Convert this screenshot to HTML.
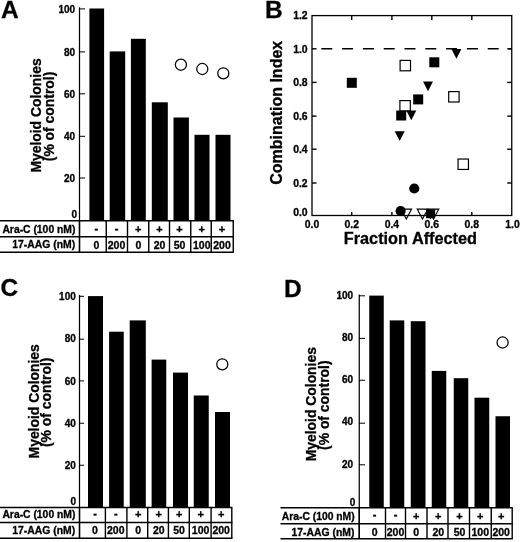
<!DOCTYPE html>
<html><head><meta charset="utf-8"><title>Figure</title>
<style>html,body{margin:0;padding:0;background:#fff;}svg{display:block;filter:grayscale(1);}text{font-family:"Liberation Sans", Arial, Helvetica, sans-serif;font-weight:bold;fill:#000;stroke:#000;stroke-width:0.3px;}</style>
</head><body>
<svg width="520" height="542" viewBox="0 0 520 542">
<rect x="0" y="0" width="520" height="542" fill="#fff"/>
<text x="1.0" y="18.3" font-size="24.5" text-anchor="start" >A</text>
<rect x="89.40" y="8.50" width="14.70" height="212.20" fill="#000"/>
<rect x="109.70" y="51.40" width="15.50" height="169.30" fill="#000"/>
<rect x="130.90" y="38.80" width="14.90" height="181.90" fill="#000"/>
<rect x="151.80" y="102.30" width="16.00" height="118.40" fill="#000"/>
<rect x="173.50" y="117.50" width="15.40" height="103.20" fill="#000"/>
<rect x="194.50" y="134.80" width="15.00" height="85.90" fill="#000"/>
<rect x="215.50" y="134.80" width="15.00" height="85.90" fill="#000"/>
<line x1="79.5" y1="7.3" x2="79.5" y2="252.3" stroke="#000" stroke-width="1.25" />
<line x1="79.5" y1="8.9" x2="85.1" y2="8.9" stroke="#000" stroke-width="1.0" />
<line x1="79.5" y1="51.9" x2="85.1" y2="51.9" stroke="#000" stroke-width="1.0" />
<line x1="79.5" y1="93.8" x2="85.1" y2="93.8" stroke="#000" stroke-width="1.0" />
<line x1="79.5" y1="136.3" x2="85.1" y2="136.3" stroke="#000" stroke-width="1.0" />
<line x1="79.5" y1="178.0" x2="85.1" y2="178.0" stroke="#000" stroke-width="1.0" />
<text x="75.2" y="12.6" font-size="10.0" text-anchor="end" >100</text>
<text x="75.2" y="55.5" font-size="10.0" text-anchor="end" >80</text>
<text x="75.2" y="97.5" font-size="10.0" text-anchor="end" >60</text>
<text x="75.2" y="140.0" font-size="10.0" text-anchor="end" >40</text>
<text x="75.2" y="181.79999999999998" font-size="10.0" text-anchor="end" >20</text>
<text x="77.1" y="218.35" font-size="10.0" text-anchor="end" >0</text>
<line x1="0" y1="220.7" x2="233.85" y2="220.7" stroke="#000" stroke-width="1.4" />
<line x1="0" y1="236.75" x2="233.85" y2="236.75" stroke="#000" stroke-width="1.4" />
<line x1="0" y1="252.3" x2="233.85" y2="252.3" stroke="#000" stroke-width="1.4" />
<line x1="79.5" y1="220.7" x2="79.5" y2="252.3" stroke="#000" stroke-width="1.4" />
<line x1="106.25" y1="220.7" x2="106.25" y2="252.3" stroke="#000" stroke-width="1.4" />
<line x1="127.5" y1="220.7" x2="127.5" y2="252.3" stroke="#000" stroke-width="1.4" />
<line x1="148.75" y1="220.7" x2="148.75" y2="252.3" stroke="#000" stroke-width="1.4" />
<line x1="169.5" y1="220.7" x2="169.5" y2="252.3" stroke="#000" stroke-width="1.4" />
<line x1="190.75" y1="220.7" x2="190.75" y2="252.3" stroke="#000" stroke-width="1.4" />
<line x1="211.25" y1="220.7" x2="211.25" y2="252.3" stroke="#000" stroke-width="1.4" />
<line x1="233.25" y1="220.7" x2="233.25" y2="252.3" stroke="#000" stroke-width="1.4" />
<text x="75.4" y="232.7" font-size="10.35" text-anchor="end" >Ara-C (100 nM)</text>
<text x="75.1" y="248.45" font-size="10.4" text-anchor="end" >17-AAG (nM)</text>
<text x="96.3" y="231.7" font-size="11" text-anchor="middle" >-</text>
<text x="96.3" y="248.65" font-size="10.5" text-anchor="middle" >0</text>
<text x="116.5" y="231.7" font-size="11" text-anchor="middle" >-</text>
<text x="116.5" y="248.65" font-size="10.5" text-anchor="middle" >200</text>
<text x="138.3" y="233.0" font-size="11" text-anchor="middle" >+</text>
<text x="138.3" y="248.65" font-size="10.5" text-anchor="middle" >0</text>
<text x="159.5" y="233.0" font-size="11" text-anchor="middle" >+</text>
<text x="159.5" y="248.65" font-size="10.5" text-anchor="middle" >20</text>
<text x="179.5" y="233.0" font-size="11" text-anchor="middle" >+</text>
<text x="179.5" y="248.65" font-size="10.5" text-anchor="middle" >50</text>
<text x="201.8" y="233.0" font-size="11" text-anchor="middle" >+</text>
<text x="201.8" y="248.65" font-size="10.5" text-anchor="middle" >100</text>
<text x="222" y="233.0" font-size="11" text-anchor="middle" >+</text>
<text x="222" y="248.65" font-size="10.5" text-anchor="middle" >200</text>
<text transform="translate(40.8,115.5) rotate(-90)" font-size="13.9" text-anchor="middle">Myeloid Colonies</text>
<text transform="translate(54.0,116.5) rotate(-90)" font-size="13.9" text-anchor="middle">(% of control)</text>
<circle cx="180.9" cy="64.7" r="5.55" fill="#fff" stroke="#000" stroke-width="1.25"/>
<circle cx="202.3" cy="69" r="5.55" fill="#fff" stroke="#000" stroke-width="1.25"/>
<circle cx="223.3" cy="73.3" r="5.55" fill="#fff" stroke="#000" stroke-width="1.25"/>
<text x="0.4" y="296.1" font-size="24.5" text-anchor="start" >C</text>
<rect x="88.00" y="296.10" width="15.00" height="211.40" fill="#000"/>
<rect x="109.10" y="331.70" width="14.65" height="175.80" fill="#000"/>
<rect x="129.70" y="320.40" width="16.10" height="187.10" fill="#000"/>
<rect x="151.60" y="359.60" width="14.65" height="147.90" fill="#000"/>
<rect x="173.00" y="372.60" width="15.00" height="134.90" fill="#000"/>
<rect x="193.75" y="395.50" width="15.00" height="112.00" fill="#000"/>
<rect x="215.00" y="412.00" width="15.00" height="95.50" fill="#000"/>
<line x1="79.5" y1="294.90000000000003" x2="79.5" y2="538.25" stroke="#000" stroke-width="1.25" />
<line x1="79.5" y1="296.3" x2="84.1" y2="296.3" stroke="#000" stroke-width="1.0" />
<line x1="79.5" y1="339.2" x2="84.1" y2="339.2" stroke="#000" stroke-width="1.0" />
<line x1="79.5" y1="380.9" x2="84.1" y2="380.9" stroke="#000" stroke-width="1.0" />
<line x1="79.5" y1="423.25" x2="84.1" y2="423.25" stroke="#000" stroke-width="1.0" />
<line x1="79.5" y1="465.25" x2="84.1" y2="465.25" stroke="#000" stroke-width="1.0" />
<text x="75.8" y="300.0" font-size="10.0" text-anchor="end" >100</text>
<text x="75.8" y="341.6" font-size="10.0" text-anchor="end" >80</text>
<text x="75.8" y="384.5" font-size="10.0" text-anchor="end" >60</text>
<text x="75.8" y="426.90000000000003" font-size="10.0" text-anchor="end" >40</text>
<text x="75.8" y="468.90000000000003" font-size="10.0" text-anchor="end" >20</text>
<text x="76.0" y="504.90000000000003" font-size="10.0" text-anchor="end" >0</text>
<line x1="0" y1="507.5" x2="232.4" y2="507.5" stroke="#000" stroke-width="1.4" />
<line x1="0" y1="522.5" x2="232.4" y2="522.5" stroke="#000" stroke-width="1.4" />
<line x1="0" y1="538.25" x2="232.4" y2="538.25" stroke="#000" stroke-width="1.4" />
<line x1="79.5" y1="507.5" x2="79.5" y2="538.25" stroke="#000" stroke-width="1.4" />
<line x1="105.4" y1="507.5" x2="105.4" y2="538.25" stroke="#000" stroke-width="1.4" />
<line x1="126.9" y1="507.5" x2="126.9" y2="538.25" stroke="#000" stroke-width="1.4" />
<line x1="147.7" y1="507.5" x2="147.7" y2="538.25" stroke="#000" stroke-width="1.4" />
<line x1="168.4" y1="507.5" x2="168.4" y2="538.25" stroke="#000" stroke-width="1.4" />
<line x1="189.3" y1="507.5" x2="189.3" y2="538.25" stroke="#000" stroke-width="1.4" />
<line x1="211.1" y1="507.5" x2="211.1" y2="538.25" stroke="#000" stroke-width="1.4" />
<line x1="231.8" y1="507.5" x2="231.8" y2="538.25" stroke="#000" stroke-width="1.4" />
<text x="75.4" y="517.8000000000001" font-size="10.35" text-anchor="end" >Ara-C (100 nM)</text>
<text x="75.1" y="534.1" font-size="10.4" text-anchor="end" >17-AAG (nM)</text>
<text x="95" y="516.5" font-size="11" text-anchor="middle" >-</text>
<text x="95" y="534.1999999999999" font-size="10.5" text-anchor="middle" >0</text>
<text x="115.75" y="516.5" font-size="11" text-anchor="middle" >-</text>
<text x="115.75" y="534.1999999999999" font-size="10.5" text-anchor="middle" >200</text>
<text x="138.25" y="517.8" font-size="11" text-anchor="middle" >+</text>
<text x="138.25" y="534.1999999999999" font-size="10.5" text-anchor="middle" >0</text>
<text x="158.75" y="517.8" font-size="11" text-anchor="middle" >+</text>
<text x="158.75" y="534.1999999999999" font-size="10.5" text-anchor="middle" >20</text>
<text x="179.1" y="517.8" font-size="11" text-anchor="middle" >+</text>
<text x="179.1" y="534.1999999999999" font-size="10.5" text-anchor="middle" >50</text>
<text x="200.6" y="517.8" font-size="11" text-anchor="middle" >+</text>
<text x="200.6" y="534.1999999999999" font-size="10.5" text-anchor="middle" >100</text>
<text x="221.2" y="517.8" font-size="11" text-anchor="middle" >+</text>
<text x="221.2" y="534.1999999999999" font-size="10.5" text-anchor="middle" >200</text>
<text transform="translate(39.3,401.3) rotate(-90)" font-size="13.9" text-anchor="middle">Myeloid Colonies</text>
<text transform="translate(50.8,402.3) rotate(-90)" font-size="13.9" text-anchor="middle">(% of control)</text>
<circle cx="222.3" cy="364.3" r="5.55" fill="#fff" stroke="#000" stroke-width="1.25"/>
<text x="284.0" y="296.6" font-size="24.5" text-anchor="start" >D</text>
<rect x="369.25" y="295.60" width="14.50" height="212.10" fill="#000"/>
<rect x="389.75" y="320.40" width="14.50" height="187.30" fill="#000"/>
<rect x="410.75" y="321.20" width="14.75" height="186.50" fill="#000"/>
<rect x="431.75" y="370.90" width="14.50" height="136.80" fill="#000"/>
<rect x="453.75" y="378.20" width="14.50" height="129.50" fill="#000"/>
<rect x="474.50" y="397.70" width="14.75" height="110.00" fill="#000"/>
<rect x="495.50" y="416.25" width="14.50" height="91.45" fill="#000"/>
<line x1="359.25" y1="294.40000000000003" x2="359.25" y2="538.8" stroke="#000" stroke-width="1.25" />
<line x1="359.25" y1="295.8" x2="365.05" y2="295.8" stroke="#000" stroke-width="1.0" />
<line x1="359.25" y1="338.4" x2="365.05" y2="338.4" stroke="#000" stroke-width="1.0" />
<line x1="359.25" y1="380.25" x2="365.05" y2="380.25" stroke="#000" stroke-width="1.0" />
<line x1="359.25" y1="423.2" x2="365.05" y2="423.2" stroke="#000" stroke-width="1.0" />
<line x1="359.25" y1="464.8" x2="365.05" y2="464.8" stroke="#000" stroke-width="1.0" />
<text x="353.15000000000003" y="298.5" font-size="10.0" text-anchor="end" >100</text>
<text x="353.15000000000003" y="341.40000000000003" font-size="10.0" text-anchor="end" >80</text>
<text x="353.15000000000003" y="383.1" font-size="10.0" text-anchor="end" >60</text>
<text x="353.15000000000003" y="425.1" font-size="10.0" text-anchor="end" >40</text>
<text x="353.15000000000003" y="467.6" font-size="10.0" text-anchor="end" >20</text>
<text x="355.25" y="505.6" font-size="10.0" text-anchor="end" >0</text>
<line x1="280.5" y1="507.7" x2="512.8000000000001" y2="507.7" stroke="#000" stroke-width="1.4" />
<line x1="280.5" y1="523.8" x2="512.8000000000001" y2="523.8" stroke="#000" stroke-width="1.4" />
<line x1="280.5" y1="538.8" x2="512.8000000000001" y2="538.8" stroke="#000" stroke-width="1.4" />
<line x1="359.25" y1="507.7" x2="359.25" y2="538.8" stroke="#000" stroke-width="1.4" />
<line x1="385.5" y1="507.7" x2="385.5" y2="538.8" stroke="#000" stroke-width="1.4" />
<line x1="405.5" y1="507.7" x2="405.5" y2="538.8" stroke="#000" stroke-width="1.4" />
<line x1="427" y1="507.7" x2="427" y2="538.8" stroke="#000" stroke-width="1.4" />
<line x1="448" y1="507.7" x2="448" y2="538.8" stroke="#000" stroke-width="1.4" />
<line x1="469.5" y1="507.7" x2="469.5" y2="538.8" stroke="#000" stroke-width="1.4" />
<line x1="491.25" y1="507.7" x2="491.25" y2="538.8" stroke="#000" stroke-width="1.4" />
<line x1="512.2" y1="507.7" x2="512.2" y2="538.8" stroke="#000" stroke-width="1.4" />
<text x="354.7" y="519.95" font-size="10.35" text-anchor="end" >Ara-C (100 nM)</text>
<text x="354.40000000000003" y="535.7" font-size="10.4" text-anchor="end" >17-AAG (nM)</text>
<text x="374.6" y="518.45" font-size="11" text-anchor="middle" >-</text>
<text x="374.6" y="535.9" font-size="10.5" text-anchor="middle" >0</text>
<text x="395.5" y="518.45" font-size="11" text-anchor="middle" >-</text>
<text x="395.5" y="535.9" font-size="10.5" text-anchor="middle" >200</text>
<text x="416.25" y="519.75" font-size="11" text-anchor="middle" >+</text>
<text x="416.25" y="535.9" font-size="10.5" text-anchor="middle" >0</text>
<text x="438.25" y="519.75" font-size="11" text-anchor="middle" >+</text>
<text x="438.25" y="535.9" font-size="10.5" text-anchor="middle" >20</text>
<text x="459.5" y="519.75" font-size="11" text-anchor="middle" >+</text>
<text x="459.5" y="535.9" font-size="10.5" text-anchor="middle" >50</text>
<text x="480.3" y="519.75" font-size="11" text-anchor="middle" >+</text>
<text x="480.3" y="535.9" font-size="10.5" text-anchor="middle" >100</text>
<text x="501.2" y="519.75" font-size="11" text-anchor="middle" >+</text>
<text x="501.2" y="535.9" font-size="10.5" text-anchor="middle" >200</text>
<text transform="translate(315.8,404.2) rotate(-90)" font-size="13.9" text-anchor="middle">Myeloid Colonies</text>
<text transform="translate(328.9,405.2) rotate(-90)" font-size="13.9" text-anchor="middle">(% of control)</text>
<circle cx="502.6" cy="342.5" r="5.55" fill="#fff" stroke="#000" stroke-width="1.25"/>
<text x="265.0" y="18.3" font-size="24.5" text-anchor="start" >B</text>
<rect x="312.0" y="15.6" width="199.75" height="199.9" fill="none" stroke="#000" stroke-width="1.3"/>
<line x1="312.0" y1="48.8" x2="316.5" y2="48.8" stroke="#000" stroke-width="1.4" />
<line x1="507.25" y1="48.8" x2="511.75" y2="48.8" stroke="#000" stroke-width="1.4" />
<line x1="312.0" y1="82.4" x2="316.5" y2="82.4" stroke="#000" stroke-width="1.4" />
<line x1="507.25" y1="82.4" x2="511.75" y2="82.4" stroke="#000" stroke-width="1.4" />
<line x1="312.0" y1="116.1" x2="316.5" y2="116.1" stroke="#000" stroke-width="1.4" />
<line x1="507.25" y1="116.1" x2="511.75" y2="116.1" stroke="#000" stroke-width="1.4" />
<line x1="312.0" y1="149.2" x2="316.5" y2="149.2" stroke="#000" stroke-width="1.4" />
<line x1="507.25" y1="149.2" x2="511.75" y2="149.2" stroke="#000" stroke-width="1.4" />
<line x1="312.0" y1="183.0" x2="316.5" y2="183.0" stroke="#000" stroke-width="1.4" />
<line x1="507.25" y1="183.0" x2="511.75" y2="183.0" stroke="#000" stroke-width="1.4" />
<line x1="351.7" y1="15.6" x2="351.7" y2="20.1" stroke="#000" stroke-width="1.4" />
<line x1="351.7" y1="212.0" x2="351.7" y2="215.5" stroke="#000" stroke-width="1.4" />
<line x1="391.9" y1="15.6" x2="391.9" y2="20.1" stroke="#000" stroke-width="1.4" />
<line x1="391.9" y1="212.0" x2="391.9" y2="215.5" stroke="#000" stroke-width="1.4" />
<line x1="431.8" y1="15.6" x2="431.8" y2="20.1" stroke="#000" stroke-width="1.4" />
<line x1="431.8" y1="212.0" x2="431.8" y2="215.5" stroke="#000" stroke-width="1.4" />
<line x1="471.8" y1="15.6" x2="471.8" y2="20.1" stroke="#000" stroke-width="1.4" />
<line x1="471.8" y1="212.0" x2="471.8" y2="215.5" stroke="#000" stroke-width="1.4" />
<text x="307.6" y="19.3" font-size="10.4" text-anchor="end" >1.2</text>
<text x="307.6" y="52.5" font-size="10.4" text-anchor="end" >1.0</text>
<text x="307.6" y="86.10000000000001" font-size="10.4" text-anchor="end" >0.8</text>
<text x="307.6" y="119.8" font-size="10.4" text-anchor="end" >0.6</text>
<text x="307.6" y="152.89999999999998" font-size="10.4" text-anchor="end" >0.4</text>
<text x="307.6" y="186.7" font-size="10.4" text-anchor="end" >0.2</text>
<text x="307.6" y="216.0" font-size="10.4" text-anchor="end" >0.0</text>
<text x="312" y="227.7" font-size="10.4" text-anchor="middle" >0.0</text>
<text x="351.7" y="227.7" font-size="10.4" text-anchor="middle" >0.2</text>
<text x="391.9" y="227.7" font-size="10.4" text-anchor="middle" >0.4</text>
<text x="431.8" y="227.7" font-size="10.4" text-anchor="middle" >0.6</text>
<text x="471.8" y="227.7" font-size="10.4" text-anchor="middle" >0.8</text>
<text x="512.5" y="227.7" font-size="10.4" text-anchor="middle" >1.0</text>
<line x1="321.3" y1="48.8" x2="511.75" y2="48.8" stroke="#000" stroke-width="1.5" stroke-dasharray="11 9.8"/>
<text x="410.4" y="244.2" font-size="16.3" text-anchor="middle" >Fraction Affected</text>
<text transform="translate(281.7,112.8) rotate(-90)" font-size="16" text-anchor="middle">Combination Index</text>
<rect x="400.10" y="60.40" width="10.40" height="10.40" fill="#fff" stroke="#000" stroke-width="1.2"/>
<rect x="448.70" y="91.60" width="10.40" height="10.40" fill="#fff" stroke="#000" stroke-width="1.2"/>
<rect x="399.90" y="100.60" width="10.40" height="10.40" fill="#fff" stroke="#000" stroke-width="1.2"/>
<rect x="458.05" y="159.05" width="10.40" height="10.40" fill="#fff" stroke="#000" stroke-width="1.2"/>
<rect x="346.80" y="77.80" width="10.00" height="10.00" fill="#000"/>
<rect x="429.30" y="57.30" width="10.00" height="10.00" fill="#000"/>
<rect x="413.20" y="94.40" width="10.00" height="10.00" fill="#000"/>
<rect x="396.20" y="110.50" width="10.00" height="10.00" fill="#000"/>
<polygon points="451.40,49.10 461.40,49.10 456.40,58.80" fill="#000"/>
<polygon points="423.00,81.60 433.00,81.60 428.00,91.30" fill="#000"/>
<polygon points="406.30,110.60 416.30,110.60 411.30,120.30" fill="#000"/>
<polygon points="394.70,131.30 404.70,131.30 399.70,141.00" fill="#000"/>
<circle cx="414.25" cy="188.5" r="5.1" fill="#000"/>
<circle cx="400.6" cy="211.0" r="5.1" fill="#000"/>
<polygon points="401.00,209.10 411.60,209.10 406.30,219.00" fill="none" stroke="#000" stroke-width="1.1"/>
<polygon points="417.20,209.10 427.80,209.10 422.50,219.00" fill="none" stroke="#000" stroke-width="1.1"/>
<polygon points="428.20,209.10 438.80,209.10 433.50,219.00" fill="none" stroke="#000" stroke-width="1.1"/>
<polygon points="425.40,209.40 435.80,209.40 430.60,219.40" fill="#000"/>
<rect x="426.10" y="209.20" width="9.00" height="9.00" fill="#000"/>
</svg></body></html>
